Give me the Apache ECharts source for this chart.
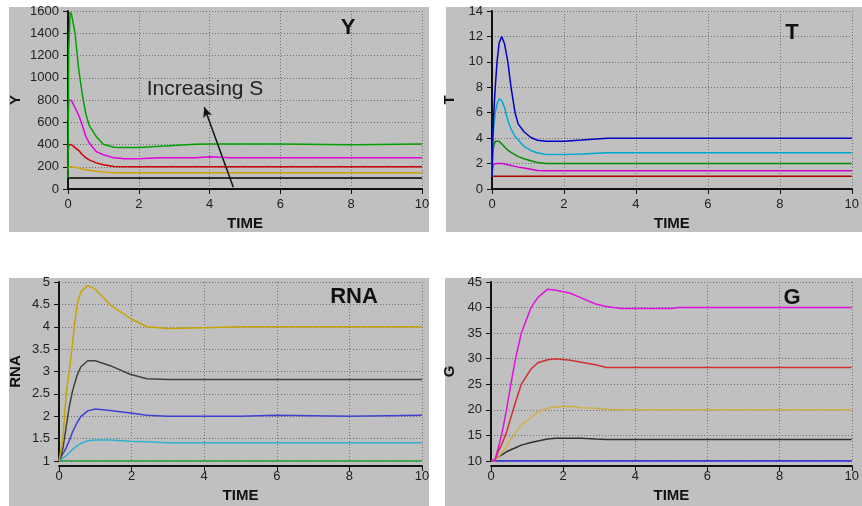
<!DOCTYPE html>
<html>
<head>
<meta charset="utf-8">
<script src="https://cdn.jsdelivr.net/npm/echarts@6/dist/echarts.min.js"></script>
<style>
  html, body { margin: 0; padding: 0; background: #fff; }
  #chart { width: 862px; height: 506px; }
</style>
</head>
<body>
<div id="chart"></div>
<script>
// time samples (x) for each panel
const tY = [0, 0.02, 0.06, 0.1, 0.2, 0.3, 0.4, 0.5, 0.6, 0.8, 1.0, 1.3, 1.6, 2.0, 2.6, 3.6, 4.0, 4.6, 6, 8, 10];
const yGreen   = [100, 1250, 1590, 1570, 1400, 1080, 860, 680, 570, 470, 402, 375, 372, 374, 385, 402, 405, 405, 405, 398, 405];
const yMagenta = [620, 800, 800, 795, 730, 665, 577, 474, 414, 336, 308, 280, 273, 272, 280, 280, 290, 282, 280, 280, 280];
const yRed     = [320, 400, 400, 398, 372, 348, 310, 282, 262, 235, 218, 202, 200, 200, 200, 200, 200, 200, 200, 200, 200];
const yGold    = [175, 200, 200, 200, 196, 188, 180, 174, 168, 160, 153, 146, 145, 145, 145, 145, 145, 145, 145, 145, 145];
const yBlack   = [100, 100, 100, 100, 100, 100, 100, 100, 100, 100, 100, 100, 100, 100, 100, 100, 100, 100, 100, 100, 100];

const tT = [0, 0.02, 0.05, 0.09, 0.14, 0.2, 0.27, 0.35, 0.44, 0.53, 0.64, 0.73, 0.89, 1.08, 1.26, 1.5, 2.0, 2.5, 3.2, 4, 6, 8, 10];
const tBlue    = [1, 4, 6, 8, 10, 11.5, 12.0, 11.4, 10, 8, 6, 5.1, 4.5, 4.05, 3.83, 3.75, 3.75, 3.85, 4, 4, 4, 4, 4];
const tCyan    = [1, 3.5, 5, 6, 6.7, 7.1, 6.95, 6.4, 5.4, 4.7, 4.15, 3.85, 3.35, 3.03, 2.85, 2.72, 2.72, 2.75, 2.85, 2.85, 2.85, 2.85, 2.85];
const tGreen   = [1, 2.7, 3.4, 3.75, 3.88, 3.75, 3.55, 3.3, 3.05, 2.88, 2.7, 2.55, 2.38, 2.22, 2.08, 2, 2, 2, 2, 2, 2, 2, 2];
const tMagenta = [1, 1.7, 1.97, 2, 2, 2, 2, 1.97, 1.9, 1.85, 1.78, 1.72, 1.65, 1.55, 1.45, 1.43, 1.43, 1.43, 1.43, 1.43, 1.43, 1.43, 1.43];
const tRed     = [1, 1, 1, 1, 1, 1, 1, 1, 1, 1, 1, 1, 1, 1, 1, 1, 1, 1, 1, 1, 1, 1, 1];

const tR = [0, 0.05, 0.11, 0.15, 0.2, 0.28, 0.36, 0.42, 0.5, 0.6, 0.79, 1.0, 1.41, 1.96, 2.42, 3, 4, 5, 6, 8, 10];
const rGold  = [1, 1.02, 1.5, 2.0, 2.52, 3.0, 3.52, 4.0, 4.49, 4.78, 4.92, 4.84, 4.49, 4.19, 4.0, 3.96, 3.98, 4.0, 4.0, 4.0, 4.0];
const rBlack = [1, 1.1, 1.3, 1.5, 1.78, 2.2, 2.52, 2.7, 2.92, 3.1, 3.24, 3.24, 3.13, 2.94, 2.84, 2.82, 2.82, 2.82, 2.82, 2.82, 2.82];
const rBlue  = [1, 1.08, 1.17, 1.22, 1.3, 1.45, 1.62, 1.73, 1.86, 1.99, 2.12, 2.16, 2.13, 2.07, 2.02, 2.0, 2.0, 2.0, 2.02, 2.0, 2.02];
const rCyan  = [1, 1.03, 1.07, 1.09, 1.12, 1.18, 1.25, 1.29, 1.34, 1.39, 1.45, 1.47, 1.47, 1.44, 1.43, 1.41, 1.41, 1.41, 1.41, 1.41, 1.41];
const rGreen = [1, 1, 1, 1, 1, 1, 1, 1, 1, 1, 1, 1, 1, 1, 1, 1, 1, 1, 1, 1, 1];

const tG = [0, 0.1, 0.2, 0.3, 0.43, 0.55, 0.68, 0.84, 1.11, 1.3, 1.57, 1.8, 2.2, 2.5, 2.9, 3.2, 3.6, 5, 5.2, 6, 8, 10];
const gMagenta = [10, 10, 12.5, 15.3, 20, 25, 30, 35, 40, 42, 43.6, 43.4, 42.8, 41.9, 40.7, 40.2, 39.8, 39.8, 40, 40, 40, 40];
const gRed     = [10, 10, 11.8, 13.3, 15.6, 18.5, 21.5, 25, 28, 29.2, 29.8, 30, 29.7, 29.3, 28.8, 28.3, 28.3, 28.3, 28.3, 28.3, 28.3, 28.3];
const gGold    = [10, 10, 10.8, 11.6, 12.7, 14.3, 15.6, 17, 18.5, 19.6, 20.3, 20.6, 20.7, 20.4, 20.3, 20.1, 20, 20, 20, 20, 20, 20];
const gBlack   = [10, 10.2, 10.8, 11.2, 11.8, 12.2, 12.6, 13.1, 13.6, 13.9, 14.3, 14.45, 14.45, 14.45, 14.3, 14.2, 14.2, 14.2, 14.2, 14.2, 14.2, 14.2];
const gBlue    = [10, 10, 10, 10, 10, 10, 10, 10, 10, 10, 10, 10, 10, 10, 10, 10, 10, 10, 10, 10, 10, 10];

const font = "'Liberation Sans', Arial, sans-serif";
const pairs = (t, v) => t.map((x, i) => [x, v[i]]);

const line = (idx, t, v, color) => ({
    type: 'line',
    xAxisIndex: idx,
    yAxisIndex: idx,
    data: pairs(t, v),
    symbol: 'none',
    smooth: false,
    lineStyle: {color: color, width: 1.5},
    z: 3
});

const xAxis = (idx) => ({
    gridIndex: idx,
    type: 'value',
    min: 0,
    max: 10,
    interval: 2,
    offset: 5,
    name: 'TIME',
    nameLocation: 'middle',
    nameGap: 22,
    nameTextStyle: {fontFamily: font, fontWeight: 'bold', fontSize: 15, color: '#111'},
    axisLine: {lineStyle: {color: '#111', width: 2}},
    axisTick: {length: 5, lineStyle: {color: '#111', width: 1}},
    axisLabel: {fontFamily: font, fontSize: 13, color: '#222', margin: 4, formatter: v => String(v)},
    splitLine: {show: true, lineStyle: {color: '#707070', type: [1, 2], width: 1}}
});

const yAxis = (idx, name, min, max, interval, gap) => ({
    gridIndex: idx,
    type: 'value',
    min: min,
    max: max,
    interval: interval,
    offset: 5,
    name: name,
    nameLocation: 'middle',
    nameGap: gap,
    nameTextStyle: {fontFamily: font, fontWeight: 'bold', fontSize: 15, color: '#111'},
    axisLine: {show: true, lineStyle: {color: '#111', width: 2}},
    axisTick: {show: true, length: 5, lineStyle: {color: '#111', width: 1}},
    axisLabel: {fontFamily: font, fontSize: 13, color: '#222', margin: 4, formatter: v => String(v)},
    splitLine: {show: true, lineStyle: {color: '#707070', type: [1, 2], width: 1}}
});

const panelBg = (x, y, w, h) => ({
    type: 'rect', z: -10, silent: true,
    shape: {x: x, y: y, width: w, height: h},
    style: {fill: '#c0c0c0'}
});

const title = (text, x, y) => ({
    type: 'text', z: 10, x: x, y: y,
    style: {text: text, font: 'bold 22px ' + font, fill: '#111', align: 'center', verticalAlign: 'middle'}
});

const chart = echarts.init(document.getElementById('chart'));
chart.setOption({
    animation: false,
    backgroundColor: '#fff',
    graphic: [
        panelBg(9, 7, 420, 225),
        panelBg(446, 7, 416, 225),
        panelBg(9, 278, 420, 228),
        panelBg(445, 278, 417, 228),
        title('Y', 348, 28),
        title('T', 792, 33),
        title('RNA', 354, 297),
        title('G', 792, 298),
        {
            type: 'text', z: 10, x: 205, y: 89,
            style: {text: 'Increasing S', font: '21px ' + font, fill: '#222', align: 'center', verticalAlign: 'middle'}
        }
    ],
    grid: [
        {left: 68, top: 11, width: 354, height: 178},
        {left: 492, top: 11, width: 366, height: 178},
        {left: 59, top: 282, width: 363, height: 179},
        {left: 491, top: 282, width: 366, height: 179}
    ],
    xAxis: [xAxis(0), xAxis(1), xAxis(2), xAxis(3)],
    yAxis: [
        yAxis(0, 'Y', 0, 1600, 200, 40),
        yAxis(1, 'T', 0, 14, 2, 30),
        yAxis(2, 'RNA', 1, 5, 0.5, 31),
        yAxis(3, 'G', 10, 45, 5, 29)
    ],
    series: [
        Object.assign(line(0, tY, yBlack, '#000000'), {
            markLine: {
                silent: true,
                symbol: ['none', 'arrow'],
                symbolSize: [7, 10],
                label: {show: false},
                lineStyle: {color: '#111', width: 1.5, type: 'solid'},
                data: [[{coord: [4.67, 15]}, {coord: [3.85, 735]}]]
            }
        }),
        line(0, tY, yGold, '#d0a000'),
        line(0, tY, yRed, '#d00000'),
        line(0, tY, yMagenta, '#e000e0'),
        line(0, tY, yGreen, '#00a000'),

        line(1, tT, tRed, '#b00000'),
        line(1, tT, tMagenta, '#d000d0'),
        line(1, tT, tGreen, '#009000'),
        line(1, tT, tCyan, '#00a8d0'),
        line(1, tT, tBlue, '#0000c8'),

        line(2, tR, rGreen, '#10a020'),
        line(2, tR, rCyan, '#30b0d0'),
        line(2, tR, rBlue, '#4040d0'),
        line(2, tR, rBlack, '#404040'),
        line(2, tR, rGold, '#c8a400'),

        line(3, tG, gBlue, '#1010e0'),
        line(3, tG, gBlack, '#303030'),
        line(3, tG, gGold, '#d0b040'),
        line(3, tG, gRed, '#d03030'),
        line(3, tG, gMagenta, '#e010e0')
    ]
});
</script>
</body>
</html>
